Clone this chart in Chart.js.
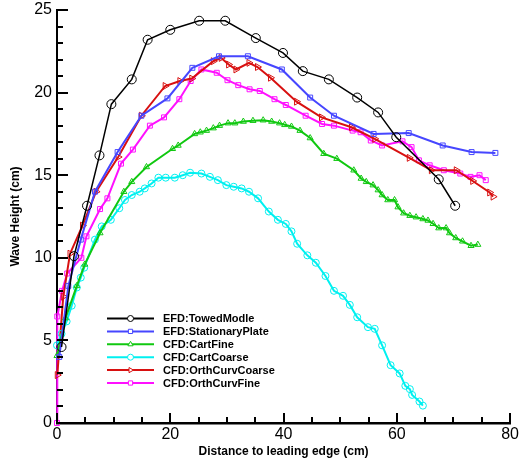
<!DOCTYPE html>
<html>
<head>
<meta charset="utf-8">
<script src="https://cdn.jsdelivr.net/npm/chart.js@4"></script>
<style>
    html, body { margin: 0; padding: 0; background: #fff; }
    #wrap { width: 521px; height: 463px; position: relative; }
</style>
</head>
<body>
<div id="wrap"><canvas id="wave-height"></canvas></div>
<script>
// Series values: distance to leading edge (cm) / wave height (cm)
const towedX = [0.8, 3.0, 5.3, 7.5, 9.6, 13.2, 16.0, 20.0, 25.1, 29.7, 35.1, 39.9, 43.4, 48.0, 53.0, 56.7, 59.9, 67.4, 70.3];
const towedY = [4.6, 10.1, 13.15, 16.2, 19.3, 20.8, 23.2, 23.8, 24.35, 24.35, 23.3, 22.4, 21.3, 20.8, 19.7, 18.8, 17.3, 14.75, 13.15];

const plateX = [0.4, 2.0, 4.2, 6.7, 10.7, 14.9, 19.5, 23.9, 28.6, 33.7, 39.7, 44.7, 48.9, 55.9, 62.1, 68.1, 73.2, 77.4];
const plateY = [4.0, 8.3, 11.1, 14.0, 16.4, 18.6, 19.65, 21.5, 22.2, 22.2, 21.4, 19.7, 18.6, 17.5, 17.55, 16.8, 16.4, 16.35];

const cartFineX = [0, 1.5, 3.5, 4.9, 7.6, 11.8, 13.2, 15.8, 20.4, 21.4, 24.3, 25.3, 26.4, 27.6, 28.7, 30.2, 31.4, 32.9, 34.6, 36.4,
    37.9, 39.3, 40.2, 41.4, 42.9, 44.7, 47.1, 49.4, 52.4, 53.7, 54.6, 55.8, 56.7, 57.4, 58.4, 59.6, 60.2, 61.2, 62.3, 63.4,
    64.6, 65.5, 66.4, 67.4, 68.7, 69.3, 70.4, 71.6, 73.1, 74.3];
const cartFineY = [4.07, 6.35, 8.3, 9.6, 11.5, 14.0, 14.6, 15.5, 16.6, 16.8, 17.5, 17.6, 17.7, 17.85, 18.0, 18.15, 18.15, 18.25, 18.3, 18.33,
    18.25, 18.15, 18.05, 17.95, 17.7, 17.25, 16.3, 16.0, 15.3, 14.8, 14.6, 14.4, 14.1, 13.8, 13.5, 13.5, 13.07, 12.7, 12.55, 12.46,
    12.35, 12.26, 12.06, 11.8, 11.8, 11.5, 11.2, 11.0, 10.73, 10.8];

const cartCoarseX = [0, 0.8, 1.7, 2.6, 3.5, 4.2, 4.8, 6.7, 7.9, 9.5, 11.0, 12.0, 13.2, 14.6, 15.5, 16.7, 17.9, 19.2, 20.8, 22.2,
    23.5, 25.5, 27.0, 28.4, 29.9, 31.2, 32.6, 33.9, 35.5, 37.4, 39.0, 40.4, 41.4, 42.4, 44.2, 45.7, 47.4, 48.9, 50.5, 51.7,
    53.0, 54.9, 56.1, 57.4, 58.9, 60.5, 61.5, 62.3, 62.7, 64.0, 64.6];
const cartCoarseY = [4.7, 5.4, 6.15, 7.1, 8.2, 8.8, 9.4, 11.1, 11.9, 12.3, 13.0, 13.5, 13.8, 14.0, 14.2, 14.5, 14.85, 14.85, 14.85, 15.0,
    15.15, 15.1, 14.9, 14.7, 14.4, 14.3, 14.2, 14.0, 13.6, 12.8, 12.3, 12.05, 11.6, 10.85, 10.15, 9.7, 8.9, 8.0, 7.7, 7.15,
    6.4, 5.8, 5.7, 4.7, 3.5, 3.0, 2.25, 2.05, 1.7, 1.3, 1.05];

const orthCoarseX = [0.05, 1.1, 2.3, 4.5, 6.9, 10.8, 14.9, 19.1, 21.7, 23.8, 27.6, 29.0, 30.3, 31.6, 33.9, 35.4, 37.7, 42.3, 46.7, 52.0,
    56.1, 62.2, 66.1, 70.5, 73.4, 76.4, 77.0];
const orthCoarseY = [2.9, 7.65, 10.25, 11.95, 14.0, 16.1, 18.6, 20.4, 20.7, 20.85, 21.9, 22.1, 21.7, 21.4, 21.8, 21.55, 20.9, 19.45, 18.5, 17.9,
    17.2, 16.05, 15.3, 15.3, 14.65, 13.95, 13.7];

const orthFineX = [0, 0.05, 0.9, 1.8, 4.3, 5.2, 7.6, 8.9, 11.3, 13.4, 16.4, 18.9, 21.6, 23.6, 25.5, 28.2, 30.1, 32.0, 34.0, 35.8,
    38.4, 40.4, 43.9, 46.8, 48.9, 52.2, 53.6, 55.4, 57.4, 61.0, 62.6, 63.9, 65.8, 68.3, 71.2, 73.0, 74.6, 75.7];
const orthFineY = [0, 6.45, 8.0, 9.05, 10.0, 11.3, 12.95, 13.6, 15.7, 16.55, 18.0, 18.5, 19.6, 20.7, 21.4, 21.2, 20.75, 20.45, 20.2, 20.1,
    19.6, 19.25, 18.6, 18.1, 18.0, 17.7, 17.6, 17.1, 16.8, 17.05, 16.7, 15.9, 15.6, 15.3, 15.1, 14.9, 15.0, 14.7];

const seriesNames = ['EFD:TowedModle', 'EFD:StationaryPlate', 'CFD:CartFine', 'CFD:CartCoarse', 'CFD:OrthCurvCoarse', 'CFD:OrthCurvFine'];
const xTicks = [0, 20, 40, 60, 80];
const yTicks = [0, 5, 10, 15, 20, 25];

const toPoints = (xs, ys) => xs.map((x, i) => ({ x: x, y: ys[i] }));

const makeSet = (label, xs, ys, color, style, radius, width, rotation) => ({
    label: label,
    data: toPoints(xs, ys),
    borderColor: color,
    borderWidth: width,
    pointStyle: style,
    pointRadius: radius,
    pointRotation: rotation || 0,
    pointBorderColor: color,
    pointBackgroundColor: 'rgba(255,255,255,0)',
    pointBorderWidth: 1,
    tension: 0,
    clip: false
});

const datasets = [
    makeSet(seriesNames[0], towedX, towedY, '#000000', 'circle', 4.5, 1.5),
    makeSet(seriesNames[1], plateX, plateY, '#4646ff', 'rect', 3.5, 2),
    makeSet(seriesNames[2], cartFineX, cartFineY, '#10c810', 'triangle', 3.5, 2),
    makeSet(seriesNames[3], cartCoarseX, cartCoarseY, '#00f0f0', 'circle', 3.5, 2),
    makeSet(seriesNames[4], orthCoarseX, orthCoarseY, '#d81010', 'triangle', 4, 2, 90),
    makeSet(seriesNames[5], orthFineX, orthFineY, '#ff10ff', 'rect', 3.5, 2)
];

// inward major/minor ticks on both axes, plus the legend box inside the plot
const axisTicks = {
    id: 'axisTicks',
    afterDraw(chart) {
        const ctx = chart.ctx;
        const xs = chart.scales.x;
        const ys = chart.scales.y;
        const left = xs.getPixelForValue(0);
        const bottom = ys.getPixelForValue(0);
        ctx.save();
        ctx.strokeStyle = '#000';
        ctx.lineWidth = 2;
        for (let v = 0; v <= 80; v += 5) {
            const px = Math.round(xs.getPixelForValue(v));
            const len = v % 20 === 0 ? 10 : 6;
            ctx.beginPath();
            ctx.moveTo(px, bottom);
            ctx.lineTo(px, bottom - len);
            ctx.stroke();
        }
        for (let v = 0; v <= 25; v += 1) {
            const py = Math.round(ys.getPixelForValue(v));
            const len = v % 5 === 0 ? 11 : 6;
            ctx.beginPath();
            ctx.moveTo(left, py);
            ctx.lineTo(left + len, py);
            ctx.stroke();
        }

        // legend
        const lx = 107, lw = 47, ty = 318.5, step = 12.9;
        ctx.font = 'bold 11px "Liberation Sans", Arial, sans-serif';
        ctx.textBaseline = 'middle';
        ctx.textAlign = 'left';
        chart.data.datasets.forEach((ds, i) => {
            const y = ty + i * step;
            ctx.strokeStyle = ds.borderColor;
            ctx.lineWidth = 2;
            ctx.beginPath();
            ctx.moveTo(lx, y);
            ctx.lineTo(lx + lw, y);
            ctx.stroke();
            ctx.fillStyle = '#fff';
            ctx.lineWidth = 1;
            Chart.helpers.drawPoint(ctx, {
                pointStyle: ds.pointStyle,
                rotation: ds.pointRotation,
                radius: 3,
                borderWidth: 1
            }, lx + lw / 2, y);
            ctx.fillStyle = '#000';
            ctx.fillText(ds.label, 163, y + 0.5);
        });
        ctx.restore();
    }
};

new Chart(document.getElementById('wave-height'), {
    type: 'line',
    data: { datasets: datasets },
    options: {
        responsive: true,
        maintainAspectRatio: false,
        animation: false,
        layout: { padding: { top: 10, right: 10, left: 0, bottom: 0 } },
        plugins: {
            legend: { display: false },
            tooltip: { enabled: false }
        },
        scales: {
            x: {
                type: 'linear',
                min: 0,
                max: 80,
                afterFit: (scale) => { scale.height = 40; },
                afterBuildTicks: (scale) => { scale.ticks = xTicks.map(v => ({ value: v })); },
                grid: { display: false, drawTicks: false },
                border: { display: true, color: '#000', width: 2.5 },
                ticks: {
                    color: '#000',
                    padding: 2,
                    maxRotation: 0,
                    font: { family: '"Liberation Sans", Arial, sans-serif', size: 16 }
                },
                title: {
                    display: true,
                    text: 'Distance to leading edge (cm)',
                    color: '#000',
                    padding: { top: 0, bottom: 4 },
                    font: { family: '"Liberation Sans", Arial, sans-serif', size: 12, weight: 'bold' }
                }
            },
            y: {
                type: 'linear',
                min: 0,
                max: 25,
                afterFit: (scale) => {
                    scale.width = 57;
                    scale.paddingTop = 0;
                    scale.paddingBottom = 0;
                },
                afterBuildTicks: (scale) => { scale.ticks = yTicks.map(v => ({ value: v })); },
                grid: { display: false, drawTicks: false },
                border: { display: true, color: '#000', width: 2 },
                ticks: {
                    color: '#000',
                    padding: 5,
                    font: { family: '"Liberation Sans", Arial, sans-serif', size: 16 }
                },
                title: {
                    display: true,
                    text: 'Wave Height (cm)',
                    color: '#000',
                    padding: { top: 8, bottom: 0 },
                    font: { family: '"Liberation Sans", Arial, sans-serif', size: 12, weight: 'bold' }
                }
            }
        }
    },
    plugins: [axisTicks]
});
</script>
</body>
</html>
